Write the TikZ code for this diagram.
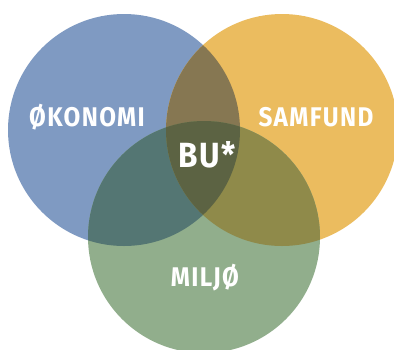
\documentclass[tikz,border=0pt]{standalone}
\usepackage{fontspec}
\setmainfont{Fira Sans}
\newfontfamily\labfont[FakeStretch=0.9, LetterSpace=5]{Fira Sans}
\definecolor{cblue}{HTML}{7F9AC2}
\definecolor{corange}{HTML}{EBBC5F}
\definecolor{cgreen}{HTML}{91AE8C}
\definecolor{cbrown}{HTML}{867752}
\definecolor{cteal}{HTML}{547673}
\definecolor{colive}{HTML}{8F8A4A}
\definecolor{ccenter}{HTML}{5C6343}
\tikzset{
  lbl/.style={text=white, font=\labfont\fontsize{27}{30}\selectfont\bfseries, inner sep=0pt, anchor=center},
  big/.style={lbl, font=\labfont\fontsize{35}{38}\selectfont\bfseries}
}
\begin{document}
\begin{tikzpicture}[x=1pt,y=-1pt]
\useasboundingbox (0,0) rectangle (394,349);
\def\ca{(124,130) circle (116)}
\def\cb{(282,130) circle (116)}
\def\cc{(204,237) circle (116)}
\fill[cblue] \ca;
\fill[corange] \cb;
\fill[cgreen] \cc;
\begin{scope}\clip \ca; \fill[cbrown] \cb; \end{scope}
\begin{scope}\clip \ca; \fill[cteal] \cc; \end{scope}
\begin{scope}\clip \cb; \fill[colive] \cc; \end{scope}
\begin{scope}\clip \ca; \clip \cb; \fill[ccenter] \cc; \end{scope}
\node[lbl] (oko) at (87,117) {ØKONOMI};
\node[lbl] (sam) at (316,117) {SAMFUND};
\node[big] (bu) at (207,155) {BU*};
\node[lbl] (mil) at (205,278) {MILJØ};
\end{tikzpicture}
\end{document}
